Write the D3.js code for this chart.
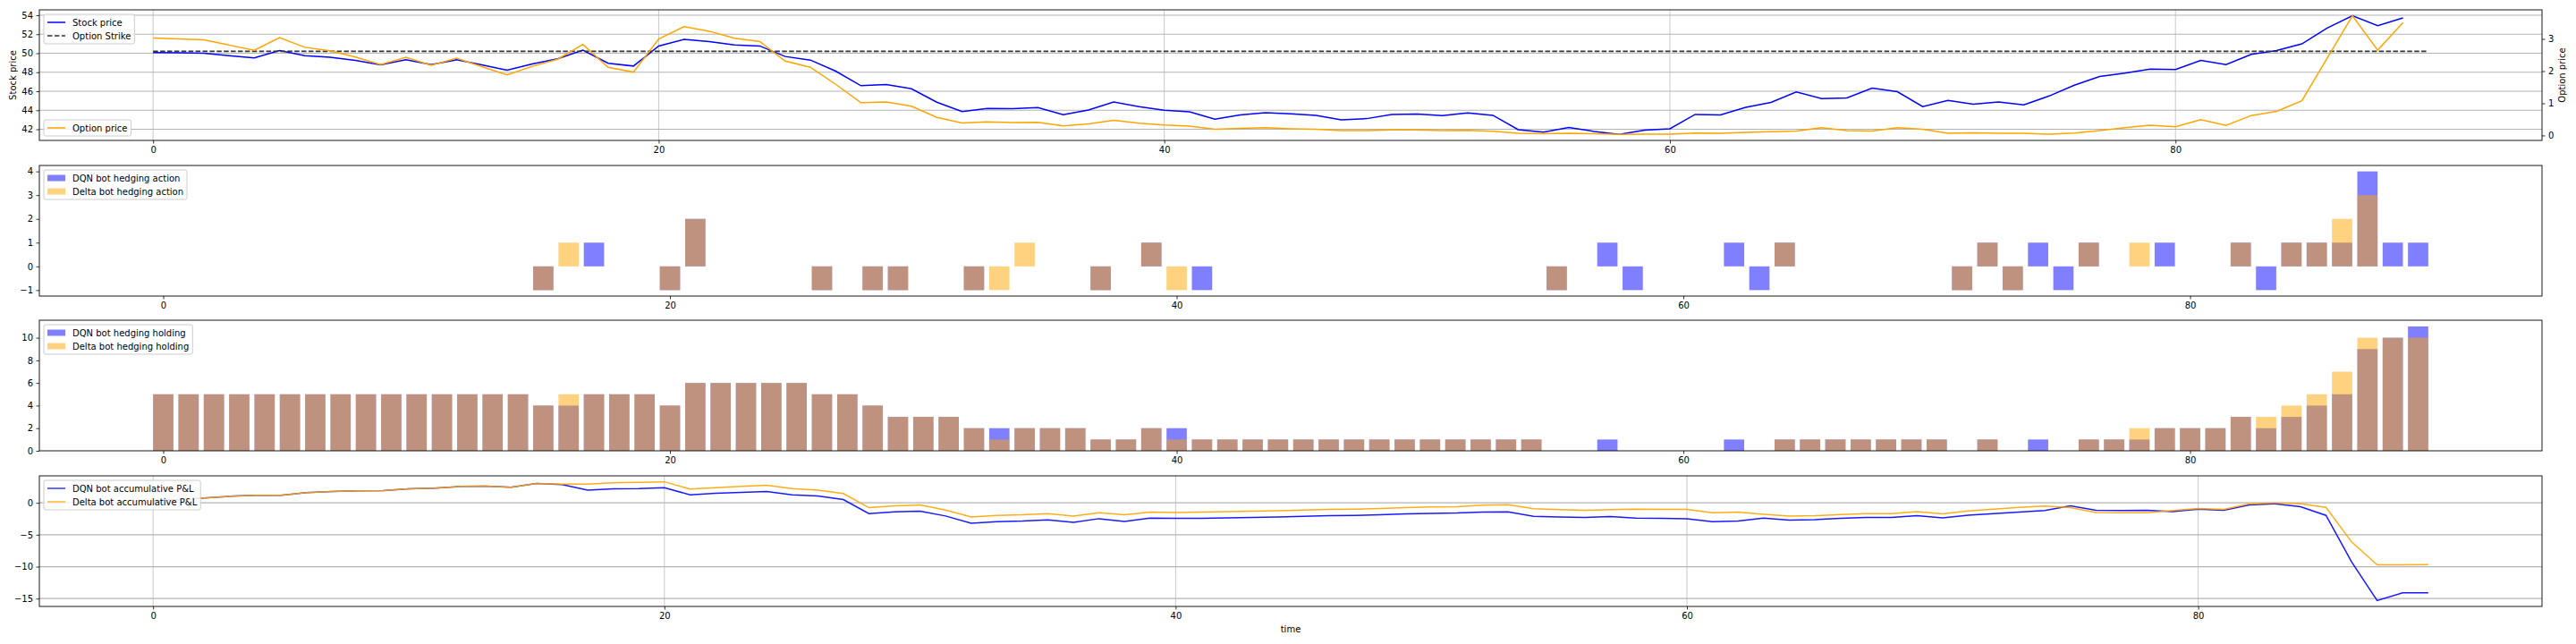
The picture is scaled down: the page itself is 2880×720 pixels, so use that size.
<!DOCTYPE html>
<html><head><meta charset="utf-8">
<script src="https://cdn.jsdelivr.net/npm/d3@7"></script>
<style>
body{margin:0;background:#fff;}
svg text{font-family:"DejaVu Sans",sans-serif;font-size:10px;fill:#000;}
</style></head><body>
<svg id="chart" width="2880" height="720"></svg>
<script>
// ---------------- DATA ----------------
const timeSteps = d3.range(90);
const strikePrice = 50.2;
const strikeSpan = [0, 90];
const stockPrice = [
50.07,50.04,50.0,49.75,49.5,50.29,49.75,49.57,49.25,48.78,
49.31,48.81,49.31,48.78,48.21,48.87,49.41,50.32,48.94,48.65,
50.76,51.45,51.23,50.86,50.76,49.66,49.28,48.12,46.58,46.70,
46.26,44.85,43.87,44.19,44.16,44.28,43.53,44.03,44.88,44.38,
44.0,43.84,43.06,43.5,43.75,43.62,43.47,43.0,43.12,43.56,
43.59,43.43,43.72,43.47,41.96,41.7,42.2,41.77,41.45,41.9,
42.05,43.56,43.5,44.31,44.82,45.92,45.23,45.29,46.33,45.95,
44.38,45.04,44.63,44.88,44.57,45.5,46.64,47.55,47.9,48.34,
48.28,49.25,48.81,49.88,50.29,50.98,52.65,53.94,52.9,53.72];
const optionPrice = [
3.03,3.0,2.97,2.81,2.65,3.04,2.74,2.63,2.44,2.2,
2.43,2.18,2.40,2.14,1.88,2.15,2.37,2.83,2.12,1.97,
3.0,3.38,3.24,3.02,2.92,2.31,2.12,1.59,1.02,1.04,
0.91,0.56,0.39,0.42,0.40,0.41,0.30,0.36,0.47,0.38,
0.325,0.29,0.195,0.22,0.24,0.21,0.195,0.15,0.15,0.17,
0.17,0.15,0.16,0.13,0.065,0.056,0.065,0.056,0.03,0.037,
0.037,0.074,0.065,0.093,0.12,0.14,0.24,0.15,0.14,0.24,
0.19,0.065,0.084,0.065,0.065,0.037,0.074,0.15,0.24,0.32,
0.27,0.49,0.31,0.62,0.75,1.08,2.4,3.72,2.65,3.51];
const dqnAction = [
0,0,0,0,0,0,0,0,0,0,
0,0,0,0,0,-1,0,1,0,0,
-1,2,0,0,0,0,-1,0,-1,-1,
0,0,-1,0,0,0,0,-1,0,1,
0,-1,0,0,0,0,0,0,0,0,
0,0,0,0,0,-1,0,1,-1,0,
0,0,1,-1,1,0,0,0,0,0,
0,-1,1,-1,1,-1,1,0,0,1,
0,0,1,-1,1,1,1,4,1,1];
const deltaAction = [
0,0,0,0,0,0,0,0,0,0,
0,0,0,0,0,-1,1,0,0,0,
-1,2,0,0,0,0,-1,0,-1,-1,
0,0,-1,-1,1,0,0,-1,0,1,
-1,0,0,0,0,0,0,0,0,0,
0,0,0,0,0,-1,0,0,0,0,
0,0,0,0,1,0,0,0,0,0,
0,-1,1,-1,0,0,1,0,1,0,
0,0,1,0,1,1,2,3,0,0];
const dqnHolding = [
5,5,5,5,5,5,5,5,5,5,
5,5,5,5,5,4,4,5,5,5,
4,6,6,6,6,6,5,5,4,3,
3,3,2,2,2,2,2,1,1,2,
2,1,1,1,1,1,1,1,1,1,
1,1,1,1,1,0,0,1,0,0,
0,0,1,0,1,1,1,1,1,1,
1,0,1,0,1,0,1,1,1,2,
2,2,3,2,3,4,5,9,10,11];
const deltaHolding = [
5,5,5,5,5,5,5,5,5,5,
5,5,5,5,5,4,5,5,5,5,
4,6,6,6,6,6,5,5,4,3,
3,3,2,1,2,2,2,1,1,2,
1,1,1,1,1,1,1,1,1,1,
1,1,1,1,1,0,0,0,0,0,
0,0,0,0,1,1,1,1,1,1,
1,0,1,0,0,0,1,1,2,2,
2,2,3,3,4,5,7,10,10,10];
const dqnPnL = [
0.3,0.5,0.75,1.03,1.17,1.17,1.59,1.78,1.87,1.92,
2.2,2.29,2.57,2.62,2.43,3.04,2.85,2.0,2.2,2.24,
2.38,1.26,1.5,1.64,1.78,1.26,1.07,0.51,-1.68,-1.4,
-1.31,-2.06,-3.18,-2.94,-2.85,-2.66,-3.04,-2.48,-2.9,-2.38,
-2.43,-2.43,-2.34,-2.29,-2.2,-2.1,-2.0,-1.96,-1.87,-1.73,
-1.64,-1.59,-1.45,-1.4,-2.1,-2.2,-2.29,-2.15,-2.38,-2.43,
-2.48,-2.94,-2.85,-2.38,-2.71,-2.62,-2.43,-2.29,-2.29,-2.0,
-2.34,-1.92,-1.68,-1.45,-1.21,-0.47,-1.17,-1.21,-1.17,-1.36,
-0.98,-1.17,-0.33,-0.14,-0.61,-1.96,-9.25,-15.3,-14.11,-14.11];
const deltaPnL = [
0.3,0.5,0.75,1.03,1.17,1.17,1.59,1.78,1.87,1.92,
2.2,2.29,2.57,2.62,2.43,3.04,2.94,2.94,3.13,3.22,
3.3,2.15,2.38,2.57,2.76,2.24,2.0,1.45,-0.75,-0.47,
-0.33,-1.12,-2.2,-1.96,-1.87,-1.68,-2.06,-1.54,-1.87,-1.45,
-1.5,-1.45,-1.36,-1.3,-1.22,-1.12,-1.03,-0.98,-0.89,-0.75,
-0.65,-0.6,-0.35,-0.3,-0.93,-1.07,-1.17,-1.07,-0.98,-1.03,
-1.03,-1.54,-1.45,-1.78,-2.06,-2.01,-1.82,-1.68,-1.68,-1.36,
-1.73,-1.26,-0.98,-0.7,-0.51,-0.75,-1.5,-1.54,-1.54,-1.21,
-0.89,-1.03,-0.14,0.0,-0.14,-0.7,-6.12,-9.72,-9.72,-9.67];
const xTicks = [0,20,40,60,80];
const stockTicks = [42,44,46,48,50,52,54];
const optionTicks = [0,1,2,3];
const actionTicks = [-1,0,1,2,3,4];
const holdingTicks = [0,2,4,6,8,10];
const pnlTicks = [-15,-10,-5,0];

// ---------------- LAYOUT ----------------
const svg = d3.select('#chart');
const L = 44, R = 2842;
const P = [[11,157],[185,331],[358,504],[532,678]];
const BLUE = '#0000ff', ORANGE = '#ffa500';

function pad(ext, sticky0){
  const r = ext[1]-ext[0];
  let lo = ext[0]-0.05*r, hi = ext[1]+0.05*r;
  if (sticky0 && ext[0] === 0) lo = 0;
  return [lo, hi];
}
function styleAxis(g){
  g.select('.domain').remove();
  g.selectAll('.tick line').attr('stroke','#000').attr('stroke-width',0.8);
  g.selectAll('.tick text').attr('fill','#000')
    .style('font-family','"DejaVu Sans",sans-serif').style('font-size','10px');
  g.attr('font-family',null).attr('font-size',null);
}
function grid(x, y, top, bottom, xt, yt){
  const g = svg.append('g');
  g.selectAll('.gv').data(xt).join('line')
    .attr('x1',d=>x(d)).attr('x2',d=>x(d)).attr('y1',top).attr('y2',bottom)
    .attr('stroke','#c4c4c4').attr('stroke-width',0.9);
  g.selectAll('.gh').data(yt).join('line')
    .attr('x1',L).attr('x2',R).attr('y1',d=>y(d)).attr('y2',d=>y(d))
    .attr('stroke','#b4b4b4').attr('stroke-width',1.2);
}
function axes(x, y, top, bottom, yt, fmt){
  svg.append('g').attr('transform',`translate(0,${bottom})`)
    .call(d3.axisBottom(x).tickValues(xTicks).tickSize(3.5).tickPadding(3.5).tickFormat(d3.format('d')))
    .call(styleAxis);
  svg.append('g').attr('transform',`translate(${L},0)`)
    .call(d3.axisLeft(y).tickValues(yt).tickSize(3.5).tickPadding(3.5).tickFormat(fmt||d3.format('d')))
    .call(styleAxis);
  svg.append('rect').attr('x',L).attr('y',top).attr('width',R-L).attr('height',bottom-top)
    .attr('fill','none').attr('stroke','#000').attr('stroke-width',0.9);
}
function legend(x, y, items, anchorBottom){
  const g = svg.append('g');
  const rowH = 10, gap = 5, bp = 4;
  const h = bp*2 + items.length*rowH + (items.length-1)*gap;
  if (anchorBottom) y = y - h;
  const rect = g.append('rect').attr('x',x).attr('y',y).attr('height',h).attr('rx',2)
    .attr('fill','white').attr('fill-opacity',0.8).attr('stroke','#cccccc').attr('stroke-width',1);
  let maxW = 0;
  items.forEach((it,i)=>{
    const cy = y + bp + rowH/2 + i*(rowH+gap);
    if (it.type === 'line') {
      g.append('line').attr('x1',x+bp).attr('x2',x+bp+20).attr('y1',cy).attr('y2',cy)
        .attr('stroke',it.color).attr('stroke-width',it.width||1.5)
        .attr('stroke-dasharray',it.dash||null).attr('stroke-opacity',it.opacity||1);
    } else {
      g.append('rect').attr('x',x+bp).attr('y',cy-3.5).attr('width',20).attr('height',7)
        .attr('fill',it.color).attr('fill-opacity',0.5);
    }
    const t = g.append('text').attr('x',x+bp+28).attr('y',cy+3.6).text(it.label);
    maxW = Math.max(maxW, t.node().getComputedTextLength());
  });
  rect.attr('width', bp+28+maxW+bp);
}

// ---------------- PANEL 1 ----------------
{
  const [top,bottom] = P[0];
  const x = d3.scaleLinear().domain(pad(strikeSpan)).range([L,R]);
  const y = d3.scaleLinear().domain(pad(d3.extent([...stockPrice, strikePrice]))).range([bottom,top]);
  const yr = d3.scaleLinear().domain(pad(d3.extent(optionPrice))).range([bottom,top]);
  grid(x, y, top, bottom, xTicks, stockTicks);
  svg.append('path').datum(stockPrice)
    .attr('d', d3.line().x((d,i)=>x(timeSteps[i])).y(d=>y(d)))
    .attr('fill','none').attr('stroke',BLUE).attr('stroke-width',1.5);
  svg.append('line').attr('x1',x(strikeSpan[0])).attr('x2',x(strikeSpan[1]))
    .attr('y1',y(strikePrice)).attr('y2',y(strikePrice))
    .attr('stroke','#333').attr('stroke-width',1.8).attr('stroke-dasharray','5.5,2.4');
  svg.append('path').datum(optionPrice)
    .attr('d', d3.line().x((d,i)=>x(timeSteps[i])).y(d=>yr(d)))
    .attr('fill','none').attr('stroke',ORANGE).attr('stroke-width',1.5);
  axes(x, y, top, bottom, stockTicks);
  svg.append('g').attr('transform',`translate(${R},0)`)
    .call(d3.axisRight(yr).tickValues(optionTicks).tickSize(3.5).tickPadding(3.5).tickFormat(d3.format('d')))
    .call(styleAxis);
  svg.append('text').attr('transform',`translate(14.5,${(top+bottom)/2}) rotate(-90)`)
    .attr('text-anchor','middle').attr('dy','0.35em').text('Stock price');
  svg.append('text').attr('transform',`translate(2864,${(top+bottom)/2}) rotate(-90)`)
    .attr('text-anchor','middle').attr('dy','0.35em').text('Option price');
  legend(L+5, top+5, [
    {type:'line', color:BLUE, label:'Stock price'},
    {type:'line', color:'#333', dash:'5.5,2.4', label:'Option Strike'}]);
  legend(L+5, bottom-5, [{type:'line', color:ORANGE, label:'Option price'}], true);
}

// ---------------- PANELS 2 & 3 (bars) ----------------
function barPanel(idx, dqn, delta, yt, labels, sticky){
  const [top,bottom] = P[idx];
  const x = d3.scaleLinear().domain(pad([timeSteps[0]-0.4, timeSteps[timeSteps.length-1]+0.4])).range([L,R]);
  const ext = d3.extent([0, ...dqn, ...delta]);
  const y = d3.scaleLinear().domain(pad(ext, sticky)).range([bottom,top]);
  const draw = (vals, color) => svg.append('g').selectAll('rect').data(vals).join('rect')
    .attr('x',(d,i)=>x(timeSteps[i]-0.4))
    .attr('width',(d,i)=>x(timeSteps[i]+0.4)-x(timeSteps[i]-0.4))
    .attr('y',d=>y(Math.max(0,d)))
    .attr('height',d=>Math.abs(y(0)-y(d)))
    .attr('fill',color).attr('fill-opacity',0.5);
  draw(dqn, BLUE);
  draw(delta, ORANGE);
  axes(x, y, top, bottom, yt);
  legend(L+5, top+5, [
    {type:'patch', color:BLUE, label:labels[0]},
    {type:'patch', color:ORANGE, label:labels[1]}]);
}
barPanel(1, dqnAction, deltaAction, actionTicks, ['DQN bot hedging action','Delta bot hedging action'], false);
barPanel(2, dqnHolding, deltaHolding, holdingTicks, ['DQN bot hedging holding','Delta bot hedging holding'], true);

// ---------------- PANEL 4 ----------------
{
  const [top,bottom] = P[3];
  const x = d3.scaleLinear().domain(pad(d3.extent(timeSteps))).range([L,R]);
  const y = d3.scaleLinear().domain(pad(d3.extent([...dqnPnL, ...deltaPnL]))).range([bottom,top]);
  grid(x, y, top, bottom, xTicks, pnlTicks);
  const line = d3.line().x((d,i)=>x(timeSteps[i])).y(d=>y(d));
  svg.append('path').datum(dqnPnL).attr('d',line)
    .attr('fill','none').attr('stroke',BLUE).attr('stroke-width',1.5).attr('stroke-opacity',0.9);
  svg.append('path').datum(deltaPnL).attr('d',line)
    .attr('fill','none').attr('stroke',ORANGE).attr('stroke-width',1.5).attr('stroke-opacity',0.9);
  axes(x, y, top, bottom, pnlTicks);
  svg.append('text').attr('x',(L+R)/2).attr('y',707).attr('text-anchor','middle').text('time');
  legend(L+5, top+5, [
    {type:'line', color:BLUE, opacity:0.8, label:'DQN bot accumulative P&L'},
    {type:'line', color:ORANGE, opacity:0.8, label:'Delta bot accumulative P&L'}]);
}
</script>
</body></html>
